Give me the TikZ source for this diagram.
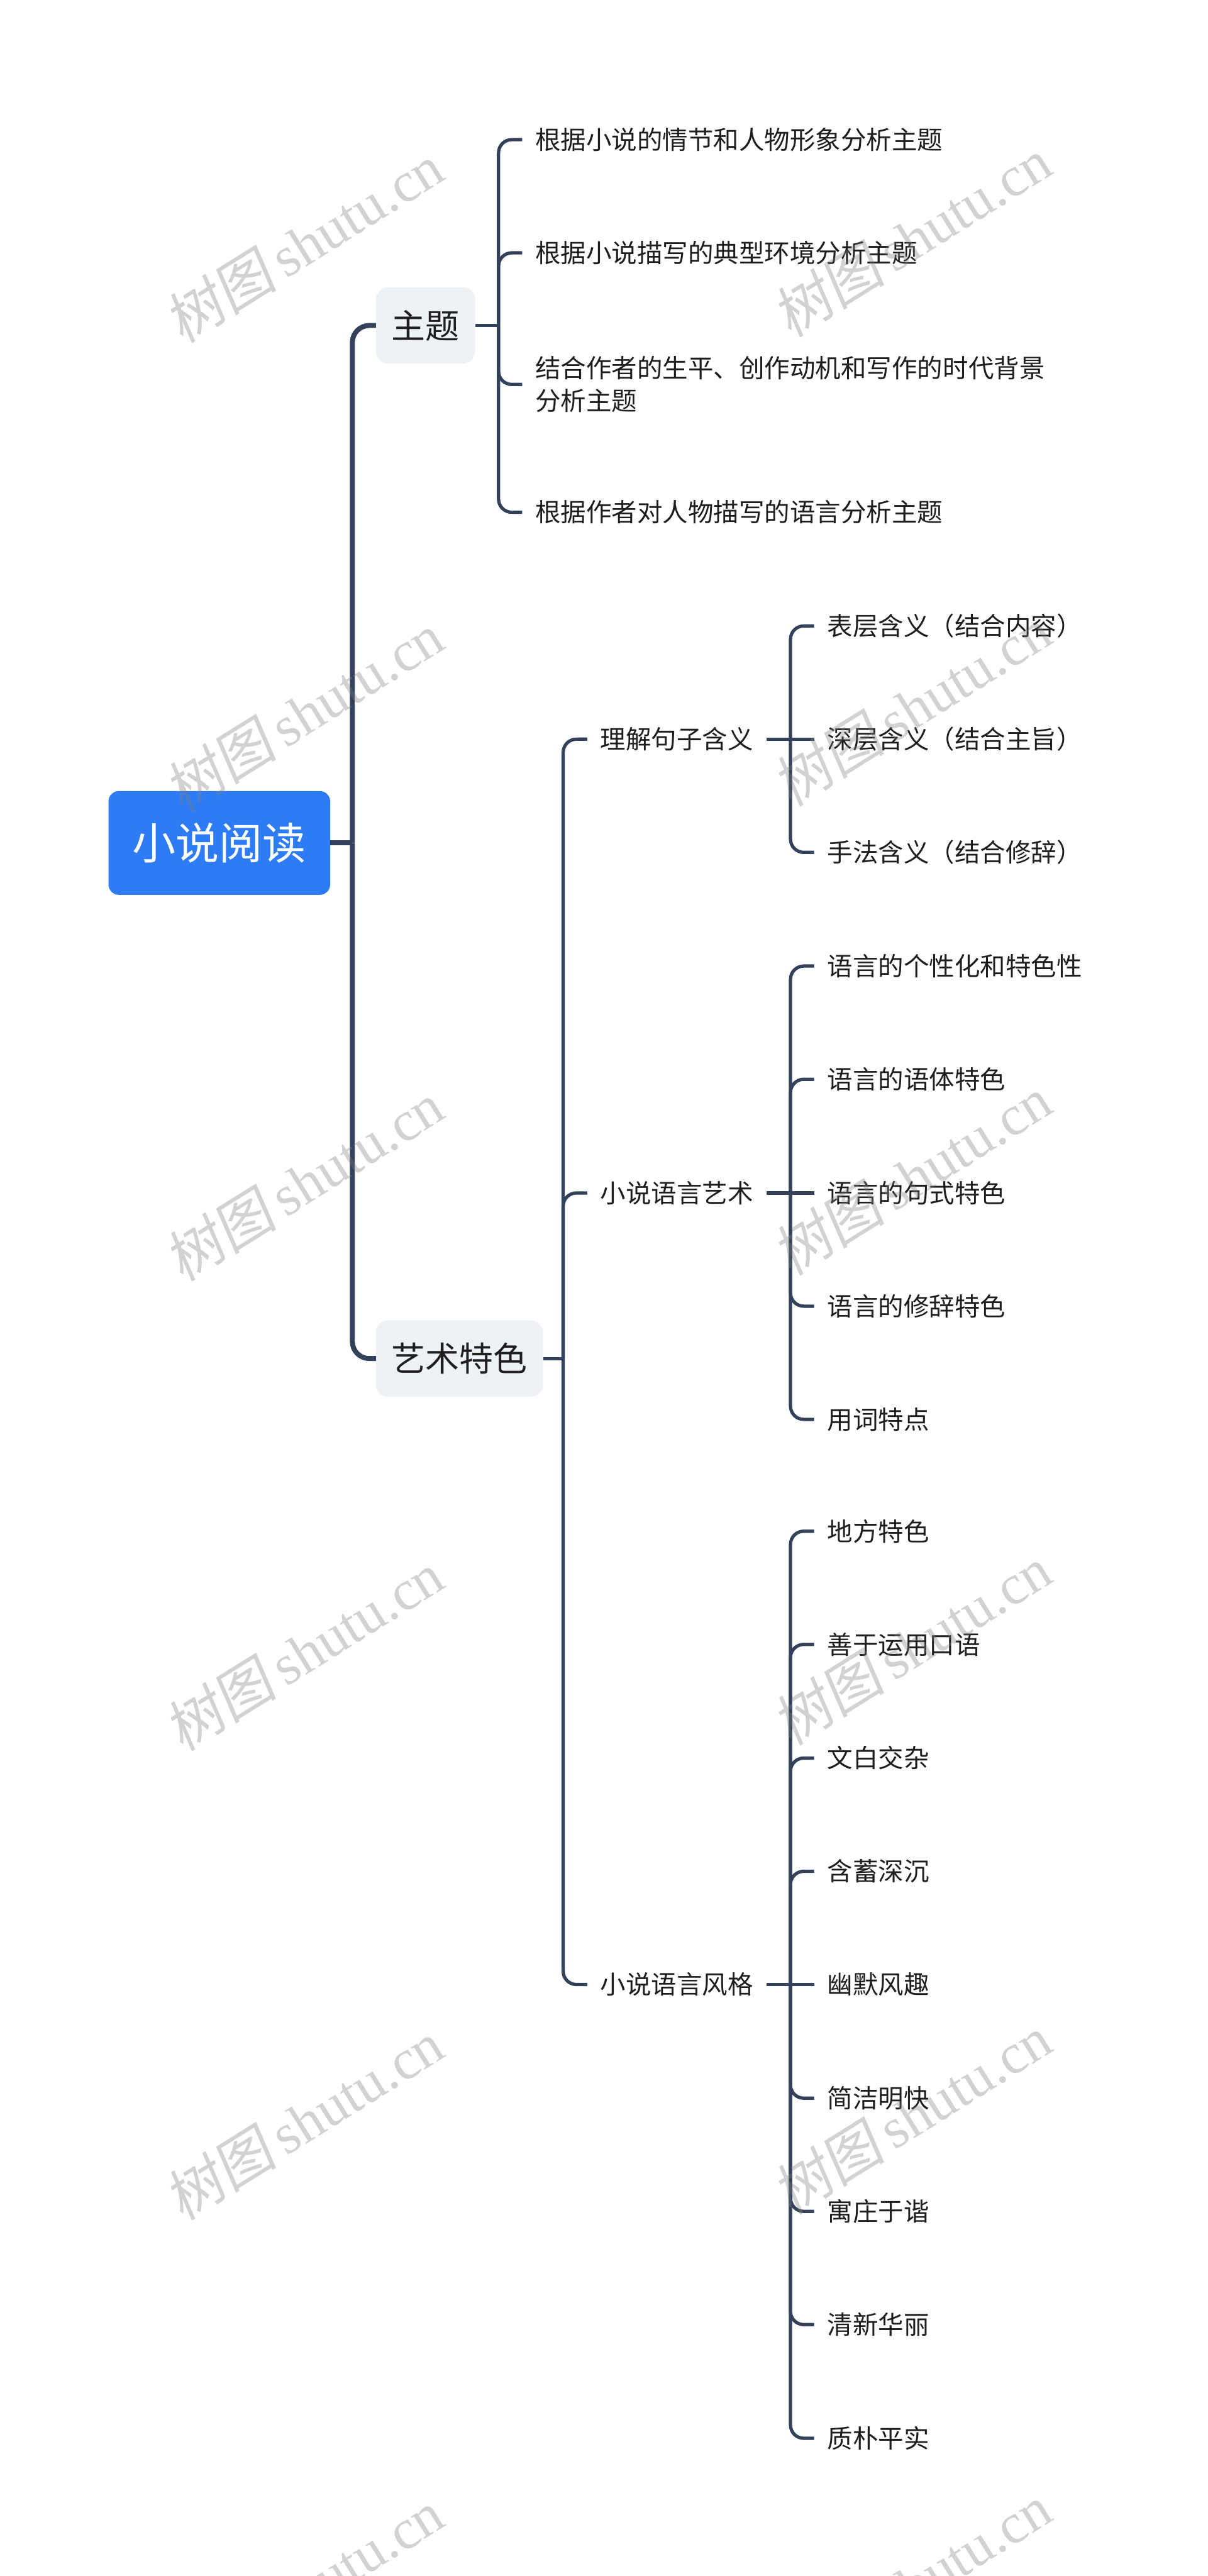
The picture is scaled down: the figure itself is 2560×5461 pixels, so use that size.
\documentclass[tikz,border=0pt]{standalone}
\usepackage{fontspec}
\setmainfont{Noto Sans CJK SC}
\newfontfamily\wmlatin{Liberation Serif}
\newfontfamily\wmcjk[FakeSlant=0.15]{Noto Sans CJK SC}
\definecolor{lineC}{HTML}{33425A}
\definecolor{rootC}{HTML}{2E7BF6}
\definecolor{boxC}{HTML}{EEF1F5}
\definecolor{txtC}{HTML}{1E1E1E}
\definecolor{wmC}{HTML}{808080}
\tikzset{
  rootbox/.style={fill=rootC, rounded corners=22pt, minimum width=470pt, minimum height=220pt,
    text=white, font=\fontsize{92}{110}\selectfont, inner sep=0pt},
  lonebox/.style={fill=boxC, rounded corners=26pt, minimum height=162pt, inner xsep=33pt,
    font=\fontsize{72}{86}\selectfont, text=txtC},
  leaf/.style={inner xsep=28pt, inner ysep=4pt, font=\fontsize{54}{69}\selectfont, text=txtC, align=left},
  lonel/.style={draw=lineC, line width=10.5pt},
  ltwol/.style={draw=lineC, line width=7pt},
  wm/.style={text=wmC, opacity=0.35, rotate=32, inner sep=0pt}
}
\begin{document}
\begin{tikzpicture}[x=1pt, y=-1pt]
\useasboundingbox[fill=white] (0,0) rectangle (2560,5461);

% nodes
\node[rootbox] (root) at (465,1787) {小说阅读};
\node[lonebox, anchor=west] (zt) at (797,690) {主题};
\node[lonebox, anchor=west] (ys) at (797,2880) {艺术特色};

\node[leaf, anchor=west] (a1) at (1107,296) {根据小说的情节和人物形象分析主题};
\node[leaf, anchor=west] (a2) at (1107,536) {根据小说描写的典型环境分析主题};
\node[leaf, anchor=west] (a3) at (1107,815) {结合作者的生平、创作动机和写作的时代背景\\分析主题};
\node[leaf, anchor=west] (a4) at (1107,1086) {根据作者对人物描写的语言分析主题};

\node[leaf, anchor=west] (b1) at (1245,1567) {理解句子含义};
\node[leaf, anchor=west] (b2) at (1245,2529) {小说语言艺术};
\node[leaf, anchor=west] (b3) at (1245,4207) {小说语言风格};

\node[leaf, anchor=west] (c1) at (1726,1327) {表层含义（结合内容）};
\node[leaf, anchor=west] (c2) at (1726,1567) {深层含义（结合主旨）};
\node[leaf, anchor=west] (c3) at (1726,1807) {手法含义（结合修辞）};

\node[leaf, anchor=west] (d1) at (1726,2048) {语言的个性化和特色性};
\node[leaf, anchor=west] (d2) at (1726,2288) {语言的语体特色};
\node[leaf, anchor=west] (d3) at (1726,2529) {语言的句式特色};
\node[leaf, anchor=west] (d4) at (1726,2769) {语言的修辞特色};
\node[leaf, anchor=west] (d5) at (1726,3009) {用词特点};

\node[leaf, anchor=west] (e1) at (1726,3246) {地方特色};
\node[leaf, anchor=west] (e2) at (1726,3486) {善于运用口语};
\node[leaf, anchor=west] (e3) at (1726,3727) {文白交杂};
\node[leaf, anchor=west] (e4) at (1726,3967) {含蓄深沉};
\node[leaf, anchor=west] (e5) at (1726,4207) {幽默风趣};
\node[leaf, anchor=west] (e6) at (1726,4448) {简洁明快};
\node[leaf, anchor=west] (e7) at (1726,4688) {寓庄于谐};
\node[leaf, anchor=west] (e8) at (1726,4928) {清新华丽};
\node[leaf, anchor=west] (e9) at (1726,5169) {质朴平实};

% junctions
\coordinate (jr) at (747,1787);
\coordinate (jz) at (1057,690);
\coordinate (jy) at (1194,2880);
\coordinate (j1) at (1676,1567);
\coordinate (j2) at (1676,2529);
\coordinate (j3) at (1676,4207);

% root level
\draw[lonel] (root.east) -- (jr);
\draw[lonel, rounded corners=36pt] (jr) |- (zt.west);
\draw[lonel, rounded corners=36pt] (jr) |- (ys.west);

% 主题
\draw[ltwol] (zt.east) -- (jz);
\foreach \c in {a1,a2,a3,a4} \draw[ltwol, rounded corners=28pt] (jz) |- (\c.west);

% 艺术特色
\draw[ltwol] (ys.east) -- (jy);
\foreach \c in {b1,b2,b3} \draw[ltwol, rounded corners=28pt] (jy) |- (\c.west);

% 理解句子含义
\draw[ltwol] (b1.east) -- (j1);
\draw[ltwol] (j1) -- (c2.west);
\foreach \c in {c1,c3} \draw[ltwol, rounded corners=28pt] (j1) |- (\c.west);

% 小说语言艺术
\draw[ltwol] (b2.east) -- (j2);
\draw[ltwol] (j2) -- (d3.west);
\foreach \c in {d1,d2,d4,d5} \draw[ltwol, rounded corners=28pt] (j2) |- (\c.west);

% 小说语言风格
\draw[ltwol] (b3.east) -- (j3);
\draw[ltwol] (j3) -- (e5.west);
\foreach \c in {e1,e2,e3,e4,e6,e7,e8,e9} \draw[ltwol, rounded corners=28pt] (j3) |- (\c.west);

% watermarks
\foreach \i/\y in {1/515,2/1510,3/2505,4/3500,5/4495,6/5490} {
  \node[wm] (wmL\i) at (644,\y) {\fontsize{120}{120}\selectfont\wmcjk 树图\,\wmlatin shutu.cn};
  \node[wm] (wmR\i) at (1933,\y-12) {\fontsize{120}{120}\selectfont\wmcjk 树图\,\wmlatin shutu.cn};
}
\end{tikzpicture}
\end{document}
